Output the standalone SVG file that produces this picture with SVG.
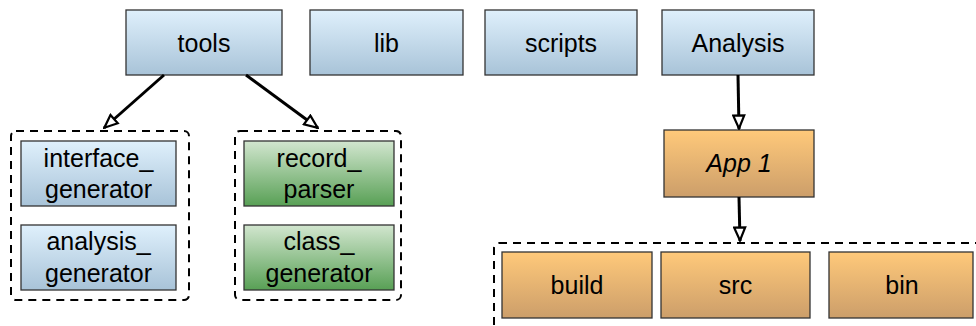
<svg xmlns="http://www.w3.org/2000/svg" width="976" height="326" viewBox="0 0 976 326">
  <defs>
    <linearGradient id="gBlue" x1="0" y1="0" x2="0" y2="1">
      <stop offset="0" stop-color="#dff0fc"/>
      <stop offset="1" stop-color="#a8c3d8"/>
    </linearGradient>
    <linearGradient id="gGreen" x1="0" y1="0" x2="0" y2="1">
      <stop offset="0" stop-color="#d2e6cf"/>
      <stop offset="1" stop-color="#58a055"/>
    </linearGradient>
    <linearGradient id="gOrange" x1="0" y1="0" x2="0" y2="1">
      <stop offset="0" stop-color="#ffc97a"/>
      <stop offset="1" stop-color="#cc9e6a"/>
    </linearGradient>
    <marker id="arrow" viewBox="0 0 16 14" refX="15" refY="7" markerWidth="16" markerHeight="14" markerUnits="userSpaceOnUse" orient="auto">
      <path d="M1.5,1.5 L14.5,7 L1.5,12.5 Z" fill="#fff" stroke="#000" stroke-width="2.2" stroke-linejoin="miter"/>
    </marker>
  </defs>
  <style>
    .box { stroke: #333; stroke-width: 1.3; }
    .blue { fill: url(#gBlue); }
    .green { fill: url(#gGreen); }
    .orange { fill: url(#gOrange); }
    .group { fill: none; stroke: #000; stroke-width: 2; stroke-dasharray: 8 6; }
    text { font-family: "Liberation Sans", Arial, sans-serif; font-size: 25px; fill: #000; text-anchor: middle; }
    .it { font-style: italic; }
    .edge { fill: none; stroke: #000; stroke-width: 3; marker-end: url(#arrow); }
  </style>

  <!-- dashed containers -->
  <g id="group-tools-left">
    <rect class="group" x="11" y="131" width="178" height="169" rx="5"/>
  </g>
  <g id="group-tools-right">
    <rect class="group" x="235" y="131" width="166" height="169" rx="5"/>
  </g>
  <g id="group-app">
    <rect class="group" x="494" y="243" width="500" height="100" rx="5"/>
  </g>

  <!-- top row -->
  <g id="tools">
    <rect class="box blue" x="126" y="10" width="156" height="65"/>
    <text x="204" y="52">tools</text>
  </g>
  <g id="lib">
    <rect class="box blue" x="310" y="10" width="153" height="65"/>
    <text x="386.5" y="52">lib</text>
  </g>
  <g id="scripts">
    <rect class="box blue" x="485" y="10" width="152" height="65"/>
    <text x="561" y="52">scripts</text>
  </g>
  <g id="analysis">
    <rect class="box blue" x="662" y="10" width="152" height="65"/>
    <text x="738" y="52">Analysis</text>
  </g>

  <!-- tools contents -->
  <g id="interface-generator">
    <rect class="box blue" x="21" y="141" width="155" height="65"/>
    <text x="98.5" y="167">interface_</text>
    <text x="98.5" y="198">generator</text>
  </g>
  <g id="analysis-generator">
    <rect class="box blue" x="21" y="225" width="155" height="65"/>
    <text x="98.5" y="250">analysis_</text>
    <text x="98.5" y="282">generator</text>
  </g>
  <g id="record-parser">
    <rect class="box green" x="244" y="141" width="150" height="65"/>
    <text x="319" y="167">record_</text>
    <text x="319" y="198">parser</text>
  </g>
  <g id="class-generator">
    <rect class="box green" x="244" y="225" width="150" height="65"/>
    <text x="319" y="250">class_</text>
    <text x="319" y="282">generator</text>
  </g>

  <!-- application -->
  <g id="app1">
    <rect class="box orange" x="664" y="130" width="150" height="67"/>
    <text class="it" x="739" y="172">App 1</text>
  </g>
  <g id="build">
    <rect class="box orange" x="502" y="252" width="150" height="66"/>
    <text x="577" y="294">build</text>
  </g>
  <g id="src">
    <rect class="box orange" x="661" y="252" width="149" height="66"/>
    <text x="735.5" y="294">src</text>
  </g>
  <g id="bin">
    <rect class="box orange" x="829" y="252" width="144" height="66"/>
    <text x="902" y="294">bin</text>
  </g>

  <!-- connectors -->
  <g id="connectors">
    <path class="edge" d="M164,75 L104,128"/>
    <path class="edge" d="M246,75 L318,128"/>
    <path class="edge" d="M738,75 L739,129"/>
    <path class="edge" d="M739,197 L740,241"/>
  </g>
</svg>
